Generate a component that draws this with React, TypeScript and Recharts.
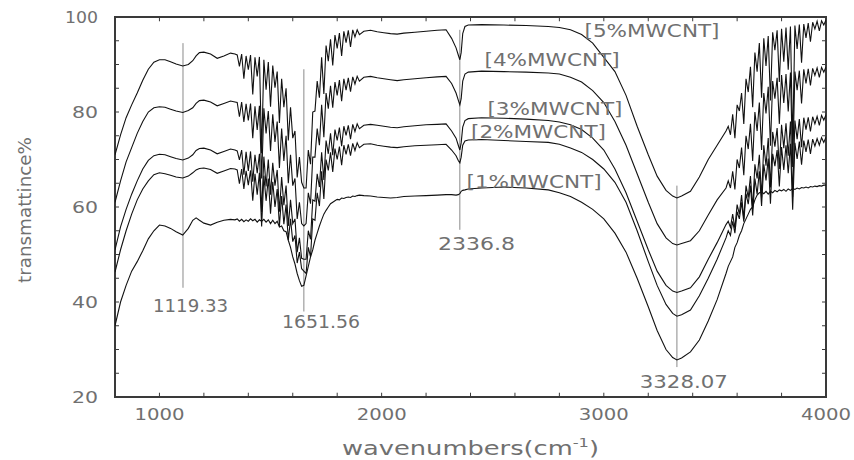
import React from "react";
import { LineChart, Line, XAxis, YAxis, ReferenceLine, ReferenceArea, ReferenceDot } from "recharts";

// wavenumber grid (cm-1)
const WAVENUMBERS = [
  800, 825, 850, 875, 900, 925, 950, 975, 1000, 1025, 1050, 1075, 1105, 1130, 1150, 1165, 1180, 1200, 1230, 1260, 1290, 1320, 1340,
  1350, 1360, 1370, 1380, 1390, 1400, 1410, 1420, 1430, 1440, 1450, 1460, 1470, 1480, 1490, 1500, 1510, 1520, 1530, 1540,
  1550, 1560, 1570, 1580, 1590, 1600, 1610, 1620, 1630, 1640, 1650, 1660, 1670, 1680, 1690, 1700, 1710, 1720, 1730, 1740,
  1750, 1760, 1770, 1780, 1790, 1800, 1810, 1820, 1830, 1840, 1850, 1860, 1870, 1880, 1890, 1900,
  1920, 1950, 1980, 2010, 2040, 2070, 2100, 2150, 2200, 2250, 2290, 2315, 2335, 2345, 2352, 2358, 2365, 2375, 2390, 2450,
  2550, 2650, 2750, 2800, 2850, 2900, 2950, 3000, 3050, 3100, 3150, 3200, 3240, 3280, 3310, 3329, 3350, 3390, 3430, 3470, 3510, 3550,
  3560, 3570, 3580, 3590, 3600, 3610, 3620, 3630, 3640, 3650, 3660, 3670, 3680, 3690, 3700, 3710, 3720, 3730, 3740, 3750,
  3760, 3770, 3780, 3790, 3800, 3810, 3820, 3830, 3840, 3850, 3860, 3870, 3880, 3890, 3900, 3910, 3920, 3930, 3940, 3950,
  3960, 3970, 3980, 3990, 4000,
];

const MWCNT_5 = [
  71, 75.2, 78.8, 81.5, 84, 86.7, 89, 90.5, 91, 91, 90.6, 90.1, 89.7, 90, 90.8, 91.8, 92.5, 92.6, 92.2, 91.3, 91.8, 92.4, 92.2,
  92.0, 89.6, 92.2, 87.0, 91.8, 88.9, 92.0, 83.7, 91.5, 87.5,
  91.6, 71.3, 91.0, 84.7, 90.5, 81.1, 89.8, 85.1, 88.5, 77.7,
  87.0, 81.0, 85.0, 74.0, 81.0, 74.5, 76.0, 66.2, 70.5, 65.2,
  64.0, 64.0, 72.0, 69.0, 80.0, 80.2, 86.5, 83.0, 91.5, 83.8,
  94.0, 90.7, 95.3, 89.8, 96.2, 93.4, 96.6, 91.8, 97.0, 94.6,
  97.2, 93.7, 97.3, 95.8, 97.3, 96.3,
  97.0, 97.2, 96.9, 96.7, 96.5, 96.4, 96.6, 96.8, 97.0, 97.2, 97.3, 95.5, 93.5, 92.0, 91.0, 92.5, 96.5, 98.0, 98.3, 98.4,
  98.3, 98.2, 98.0, 97.8, 97.3, 96.3, 94.5, 91.5, 88.5, 83.5, 77.0, 71.0, 66.5, 63.5, 62.3, 61.9, 62.3, 63.3, 66.3, 70.0, 73.0, 76.0,
  77.0, 75.2, 79.5, 74.5, 81.5, 80.2, 84.0, 77.5, 87.0, 84.2,
  89.5, 81.0, 92.5, 88.5, 94.5, 83.0, 95.5, 89.7, 96.0, 82.4,
  96.8, 93.0, 97.2, 86.3, 97.5, 90.6, 97.8, 88.9, 98.0, 73.1,
  98.2, 93.3, 98.4, 90.4, 98.5, 95.6, 98.7, 94.8, 98.9, 97.5,
  99.1, 97.1, 99.2, 98.3, 99.4,
];

const MWCNT_4 = [
  61, 65.5, 69.5, 72.5, 75.5, 78, 80, 80.9, 81.1, 81, 80.6, 80.2, 79.9, 80.3, 80.9, 81.8, 82.4, 82.5, 82.1, 81.3, 81.8, 82.3, 82.1,
  82.0, 79.0, 82.1, 77.9, 81.7, 78.2, 81.8, 74.5, 81.2, 76.2,
  81.3, 66.0, 80.8, 75.5, 80.2, 71.8, 79.5, 73.7, 78.0, 68.2,
  76.5, 69.7, 75.0, 65.0, 71.0, 64.5, 66.0, 57.5, 61.0, 56.5,
  56.0, 56.5, 63.0, 60.7, 70.5, 70.5, 76.5, 73.0, 81.5, 74.7,
  84.0, 80.7, 85.5, 80.9, 86.3, 83.5, 86.7, 82.3, 87.0, 84.6,
  87.2, 84.3, 87.4, 85.9, 87.5, 86.5,
  87.3, 87.5, 87.2, 87.0, 86.8, 86.6, 86.8, 87.0, 87.2, 87.4, 87.5, 86.0, 84.0, 82.5, 81.5, 82.8, 86.5, 88.0, 88.4, 88.6,
  88.5, 88.4, 88.2, 88.0, 87.3, 86.3, 84.5, 82.0, 78.0, 73.0, 67.0, 61.0, 56.5, 53.5, 52.3, 52.0, 52.3, 52.9, 55.0, 58.3, 61.5, 64.0,
  65.5, 64.0, 67.5, 63.7, 70.0, 68.2, 72.5, 66.7, 75.0, 72.2,
  77.5, 69.7, 80.0, 76.0, 82.0, 72.0, 84.0, 79.7, 85.3, 72.9,
  86.5, 82.8, 87.2, 77.5, 87.8, 81.9, 88.0, 80.1, 88.3, 68.4,
  88.5, 84.6, 88.7, 81.8, 89.0, 86.0, 89.1, 85.6, 89.2, 87.7,
  89.3, 87.3, 89.4, 88.4, 89.5,
];

const MWCNT_3 = [
  51, 55.8, 59.5, 62.7, 65.5, 68, 69.8, 70.8, 71.1, 71, 70.6, 70.2, 69.9, 70.3, 71, 71.9, 72.3, 72.4, 72, 71.2, 71.7, 72.2, 72,
  71.8, 69.9, 72.0, 66.8, 71.6, 67.6, 71.7, 65.3, 71.0, 67.1,
  71.2, 58.9, 70.6, 64.3, 70.0, 62.6, 69.3, 64.5, 67.8, 59.0,
  66.3, 60.4, 64.5, 56.0, 61.5, 56.5, 57.5, 50.5, 53.5, 49.2,
  49.0, 49.0, 55.0, 53.2, 61.5, 61.2, 67.0, 64.2, 71.5, 65.7,
  74.0, 71.2, 75.5, 70.9, 76.3, 74.0, 76.7, 72.8, 77.0, 75.1,
  77.2, 74.3, 77.4, 75.9, 77.5, 76.5,
  77.2, 77.4, 77.2, 77.0, 76.8, 76.7, 76.9, 77.1, 77.3, 77.4, 77.5, 76.0, 74.5, 73.0, 72.0, 73.5, 76.8, 78.2, 78.6, 78.8,
  78.7, 78.5, 78.2, 77.9, 77.3, 76.3, 74.5, 72.0, 68.0, 63.0, 57.0, 51.0, 46.5, 43.5, 42.3, 42.0, 42.3, 43.0, 45.3, 49.0, 52.5, 56.3,
  57.0, 55.7, 58.5, 55.5, 60.5, 58.5, 62.5, 57.5, 64.5, 62.0,
  66.5, 59.7, 69.0, 66.0, 71.0, 62.0, 73.0, 68.7, 74.5, 64.1,
  75.8, 72.7, 76.6, 68.0, 77.3, 72.4, 77.6, 70.8, 78.0, 62.1,
  78.2, 74.3, 78.5, 72.6, 78.8, 76.3, 78.9, 75.9, 79.0, 77.5,
  79.1, 77.2, 79.3, 78.3, 79.4,
];

const MWCNT_2 = [
  46.3, 51, 55, 58.5, 61.5, 63.8, 65.5, 66.8, 67.2, 67, 66.7, 66.3, 66.1, 66.5, 67.2, 67.8, 68.1, 68.2, 67.9, 67.1, 67.6, 68.1, 68,
  67.8, 64.9, 68.0, 63.8, 67.6, 64.6, 67.7, 61.3, 67.0, 62.6,
  67.2, 55.9, 66.6, 61.3, 66.0, 58.6, 65.3, 60.0, 63.8, 56.0,
  62.3, 56.4, 60.5, 53.0, 57.5, 52.7, 54.0, 48.2, 50.5, 47.0,
  46.5, 46.0, 51.5, 49.5, 57.5, 57.2, 63.0, 60.2, 67.5, 61.7,
  70.0, 67.7, 71.5, 67.4, 72.3, 70.0, 72.7, 68.8, 73.0, 71.1,
  73.2, 70.8, 73.4, 71.9, 73.5, 72.5,
  73.2, 73.3, 73.0, 72.8, 72.6, 72.5, 72.7, 72.9, 73.0, 73.1, 73.2, 72.0, 70.8, 69.8, 69.3, 70.5, 73.0, 73.9, 74.1, 74.2,
  74.0, 73.8, 73.6, 73.2, 72.4, 71.5, 70.0, 68.0, 65.2, 61.0, 55.0, 48.5, 43.5, 39.5, 37.6, 37.0, 37.3, 38.3, 41.3, 45.0, 49.0, 53.5,
  55.0, 54.0, 57.0, 54.5, 59.0, 57.5, 61.0, 56.9, 62.8, 60.6,
  64.5, 58.2, 66.0, 62.7, 67.5, 60.2, 69.0, 65.6, 70.2, 60.7,
  71.2, 68.6, 72.0, 64.3, 72.6, 67.8, 73.0, 67.1, 73.3, 59.4,
  73.5, 70.1, 73.8, 68.9, 74.0, 71.6, 74.2, 71.2, 74.3, 72.8,
  74.4, 73.0, 74.6, 73.6, 74.7,
];

const MWCNT_1 = [
  35, 40, 43.5, 46.5, 48.5, 50.8, 53.3, 55, 56.2, 56, 55.5, 54.8, 54.1, 55.5, 57.2, 57.7, 57.2, 56.6, 56.2, 56.8, 57.2, 57.4, 57.3,
  57.5, 57.0, 57.4, 56.9, 57.3, 57.0, 57.5, 57.1, 57.4, 56.8,
  57.3, 57.0, 57.4, 56.8, 57.3, 56.5, 57.2, 56.5, 57.0, 55.8,
  56.0, 55.0, 54.8, 53.0, 51.5, 49.5, 48.0, 46.0, 44.5, 43.3,
  43.5, 45.5, 47.5, 49.5, 51.0, 53.0, 54.5, 56.0, 57.3, 58.5,
  59.3, 60.0, 60.7, 61.0, 61.3, 61.6, 61.5, 61.9, 61.8, 62.0,
  62.1, 62.0, 62.3, 62.2, 62.4, 62.5,
  62.4, 62.3, 62.1, 62.0, 61.9, 62.0, 62.2, 62.3, 62.4, 62.5, 62.6, 62.6, 62.5, 62.6, 62.8, 63.3, 63.5, 63.6, 63.8, 64.0,
  64.2, 64.0, 63.6, 63.0, 62.2, 61.0, 59.5, 57.5, 54.5, 50.5, 45.0, 39.0, 34.0, 30.0, 28.3, 27.8, 28.2, 29.5, 32.0, 36.0, 40.5, 46.0,
  47.5, 48.5, 49.5, 51.5, 52.5, 54.0, 55.0, 56.5, 57.5, 58.5,
  59.5, 60.0, 61.5, 62.5, 63.0, 63.2, 62.8, 63.3, 62.7, 63.3,
  63.0, 63.5, 63.2, 63.6, 63.4, 63.7, 63.3, 63.8, 63.5, 63.9,
  63.7, 64.0, 63.8, 64.1, 64.0, 64.2, 64.0, 64.3, 64.2, 64.4,
  64.3, 64.5, 64.4, 64.6, 64.6,
];

const SERIES_KEYS = ["mw5", "mw4", "mw3", "mw2", "mw1"];
const SERIES_VALUES = [MWCNT_5, MWCNT_4, MWCNT_3, MWCNT_2, MWCNT_1];

const X_TICKS = [1000, 2000, 3000, 4000];
const Y_TICKS = [20, 40, 60, 80, 100];
const X_MINOR = [1000, 1200, 1400, 1600, 1800, 2000, 2200, 2400, 2600, 2800, 3000, 3200, 3400, 3600, 3800];
const Y_MINOR = [25, 30, 35, 40, 45, 50, 55, 60, 65, 70, 75, 80, 85, 90, 95];

// peak annotations
const PEAK_X = [1106, 1650, 2352, 3329];
const PEAK_Y_LOW = [43, 38, 55.2, 26.3];
const PEAK_Y_HIGH = [94.5, 89, 97.3, 64.5];
const PEAK_TEXT = ["1119.33", "1651.56", "2336.8", "3328.07"];
const PEAK_TEXT_X = [1140, 1727, 2427, 3360];
const PEAK_TEXT_Y = [37.9, 34.5, 51.0, 21.9];
const PEAK_TEXT_W = [75, 78, 77, 88];
const PEAK_TEXT_SIZE = [18, 18, 18, 17];

// curve labels
const CURVE_TEXT = ["[5%MWCNT]", "[4%MWCNT]", "[3%MWCNT]", "[2%MWCNT]", "[1%MWCNT]"];
const CURVE_TEXT_X = [3217, 2767, 2780, 2706, 2686];
const CURVE_TEXT_Y = [95.8, 89.7, 79.4, 74.5, 64.0];

const ROWS = WAVENUMBERS.map((w, i) => {
  const row: any = { w };
  SERIES_KEYS.forEach((k, j) => {
    row[k] = SERIES_VALUES[j][i];
  });
  return row;
});

const FONT = "'DejaVu Sans', sans-serif";
const GRAY = "#707070";
const FRAME = "#3a3a3a";

function XTick(props: any) {
  const { x, y, payload } = props;
  return (
    <text x={x} y={y + 23} textAnchor="middle" fontSize={16} fill={GRAY} fontFamily={FONT}
      textLength={50} lengthAdjust="spacingAndGlyphs">{payload.value}</text>
  );
}

function YTick(props: any) {
  const { x, y, payload } = props;
  const s = String(payload.value);
  return (
    <text x={x - 17} y={y + 6} textAnchor="end" fontSize={16} fill={GRAY} fontFamily={FONT}
      textLength={s.length === 3 ? 33 : 26} lengthAdjust="spacingAndGlyphs">{s}</text>
  );
}

function XTitle(props: any) {
  const vb = props.viewBox || { x: 115, y: 397, width: 711, height: 30 };
  const cx = vb.x + vb.width / 2;
  return (
    <text x={cx} y={vb.y + 58} textAnchor="middle" fontSize={19} fill={GRAY} fontFamily={FONT}
      textLength={257} lengthAdjust="spacingAndGlyphs">
      wavenumbers(cm<tspan dy={-8} fontSize={12}>-1</tspan><tspan dy={8}>)</tspan>
    </text>
  );
}

function YTitle(props: any) {
  const vb = props.viewBox || { x: 55, y: 17, width: 60, height: 380 };
  const cy = vb.y + vb.height / 2 + 3;
  const x = 31;
  return (
    <text x={x} y={cy} transform={`rotate(-90 ${x} ${cy})`} textAnchor="middle" fontSize={18} fill={GRAY}
      fontFamily={FONT} textLength={146} lengthAdjust="spacingAndGlyphs">transmattince%</text>
  );
}

function makeTextShape(text: string, width: number, size: number) {
  return (p: any) => (
    <text x={p.cx} y={p.cy} textAnchor="middle" fontSize={size} fill={GRAY} fontFamily={FONT}
      textLength={width} lengthAdjust="spacingAndGlyphs">{text}</text>
  );
}

export default function App() {
  return (
    <div style={{ position: "absolute", left: 0, top: 0, width: 854, height: 460, background: "#fff" }}>
      <LineChart width={854} height={460} data={ROWS} margin={{ top: 17, right: 28, bottom: 33, left: 55 }}>
        <XAxis dataKey="w" type="number" domain={[800, 4000]} ticks={X_TICKS} tick={XTick} tickLine={false}
          axisLine={false} tickSize={0} tickMargin={0} height={30} allowDataOverflow label={<XTitle />} />
        <YAxis type="number" domain={[20, 100]} ticks={Y_TICKS} tick={YTick} tickLine={false} axisLine={false}
          tickSize={0} tickMargin={0} width={60} allowDataOverflow label={<YTitle />} />
        <ReferenceArea x1={800} x2={4000} y1={20} y2={100} fill="none" fillOpacity={0} stroke={FRAME} strokeWidth={2} />
        {X_MINOR.map((v) => (
          <ReferenceLine key={"xb" + v} segment={[{ x: v, y: 20 }, { x: v, y: 20.9 }]} stroke={FRAME} strokeWidth={1} />
        ))}
        {X_MINOR.map((v) => (
          <ReferenceLine key={"xt" + v} segment={[{ x: v, y: 100 }, { x: v, y: 99.1 }]} stroke={FRAME} strokeWidth={1} />
        ))}
        {Y_MINOR.map((v) => (
          <ReferenceLine key={"yl" + v} segment={[{ x: 800, y: v }, { x: 818, y: v }]} stroke={FRAME} strokeWidth={1} />
        ))}
        {Y_MINOR.map((v) => (
          <ReferenceLine key={"yr" + v} segment={[{ x: 4000, y: v }, { x: 3982, y: v }]} stroke={FRAME} strokeWidth={1} />
        ))}
        {PEAK_X.map((v, i) => (
          <ReferenceLine key={"pk" + i} segment={[{ x: v, y: PEAK_Y_LOW[i] }, { x: v, y: PEAK_Y_HIGH[i] }]}
            stroke="#8a8a8a" strokeWidth={1} />
        ))}
        {SERIES_KEYS.map((k) => (
          <Line key={k} dataKey={k} type="linear" stroke="#111" strokeWidth={1.1} dot={false} activeDot={false}
            isAnimationActive={false} />
        ))}
        {PEAK_TEXT.map((t, i) => (
          <ReferenceDot key={"pt" + i} x={PEAK_TEXT_X[i]} y={PEAK_TEXT_Y[i]} r={1}
            shape={makeTextShape(t, PEAK_TEXT_W[i], PEAK_TEXT_SIZE[i])} />
        ))}
        {CURVE_TEXT.map((t, i) => (
          <ReferenceDot key={"ct" + i} x={CURVE_TEXT_X[i]} y={CURVE_TEXT_Y[i]} r={1}
            shape={makeTextShape(t, 135, 17)} />
        ))}
      </LineChart>
    </div>
  );
}
